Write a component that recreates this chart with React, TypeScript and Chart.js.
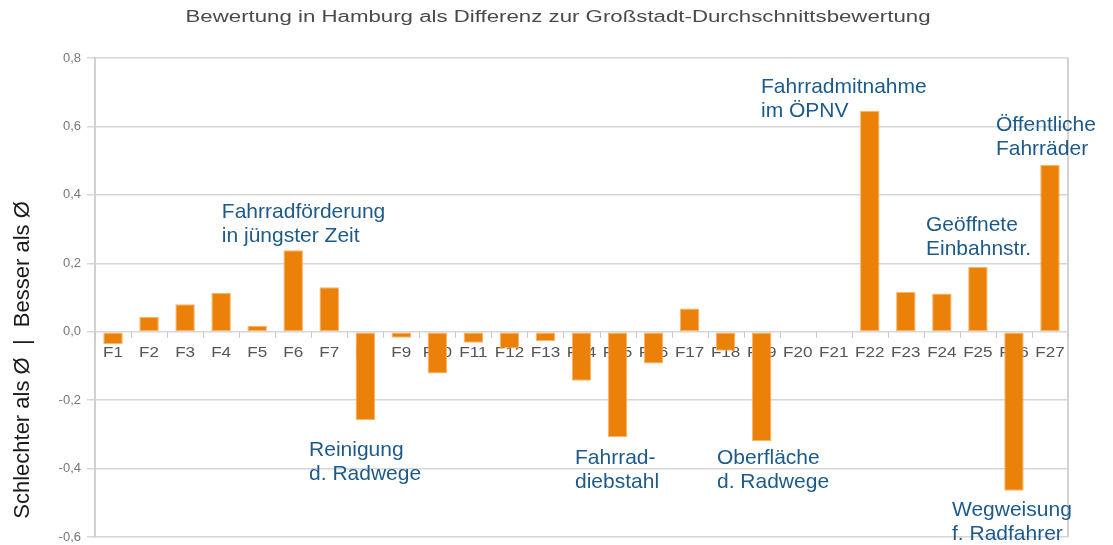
import React, { useEffect, useRef } from "react";
import { Chart, registerables } from "chart.js";

Chart.register(...registerables);

const TITLE = "Bewertung in Hamburg als Differenz zur Großstadt-Durchschnittsbewertung";
const Y_TITLE = "Schlechter als Ø  |  Besser als Ø";

const categories = [
  "F1", "F2", "F3", "F4", "F5", "F6", "F7", "F8", "F9", "F10",
  "F11", "F12", "F13", "F14", "F15", "F16", "F17", "F18", "F19", "F20",
  "F21", "F22", "F23", "F24", "F25", "F26", "F27",
];

const values = [
  -0.037, 0.043, 0.08, 0.113, 0.017, 0.238, 0.13, -0.258, -0.018, -0.122,
  -0.032, -0.049, -0.028, -0.143, -0.308, -0.093, 0.068, -0.056, -0.32, -0.002,
  0.003, 0.646, 0.117, 0.112, 0.189, -0.465, 0.487,
];

const yMin = -0.6;
const yMax = 0.8;
const yStep = 0.2;

// Annotation texts, anchored in category-index / value space
const annotationLines = [
  ["Fahrradförderung", "in jüngster Zeit"],
  ["Reinigung", "d. Radwege"],
  ["Fahrrad-", "diebstahl"],
  ["Oberfläche", "d. Radwege"],
  ["Fahrradmitnahme", "im ÖPNV"],
  ["Öffentliche", "Fahrräder"],
  ["Geöffnete", "Einbahnstr."],
  ["Wegweisung", "f. Radfahrer"],
];
const annotationX = [3.02, 5.44, 12.82, 16.76, 17.98, 24.5, 22.56, 23.28];
const annotationY = [0.35, -0.346, -0.369, -0.369, 0.715, 0.604, 0.312, -0.521];

const FONT = '"Liberation Sans", Arial, sans-serif';

const decorPlugin = {
  id: "decor",
  beforeDatasetsDraw(chart: any) {
    const { ctx, chartArea, scales } = chart;
    const x = scales.x;
    const y = scales.y;
    const y0 = y.getPixelForValue(0);
    ctx.save();
    // right border of plot
    ctx.strokeStyle = "#d3d3d3";
    ctx.lineWidth = 2;
    ctx.beginPath();
    ctx.moveTo(chartArea.right, chartArea.top);
    ctx.lineTo(chartArea.right, chartArea.bottom);
    ctx.stroke();
    // small category ticks below the zero line
    ctx.strokeStyle = "#c8c8c8";
    ctx.lineWidth = 1;
    for (let i = 0; i <= categories.length; i++) {
      const px = Math.round(x.getPixelForValue(i - 0.5)) + 0.5;
      ctx.beginPath();
      ctx.moveTo(px, y0);
      ctx.lineTo(px, y0 + 6);
      ctx.stroke();
    }
    // category labels just below zero line
    ctx.fillStyle = "#555555";
    ctx.font = "14px " + FONT;
    ctx.textAlign = "center";
    ctx.textBaseline = "middle";
    categories.forEach((c, i) => {
      const px = x.getPixelForValue(i);
      ctx.save();
      ctx.translate(px, y0 + 21);
      ctx.scale(1.22, 1);
      ctx.fillText(c, 0, 0);
      ctx.restore();
    });
    ctx.restore();
  },
  afterDraw(chart: any) {
    const { ctx, scales } = chart;
    const x = scales.x;
    const y = scales.y;
    ctx.save();
    // title (stretched horizontally like the original)
    ctx.font = "16px " + FONT;
    ctx.fillStyle = "#4a4a4a";
    ctx.textAlign = "center";
    ctx.textBaseline = "middle";
    const w = ctx.measureText(TITLE).width;
    ctx.save();
    ctx.translate(558, 18);
    ctx.scale(745 / w, 1);
    ctx.fillText(TITLE, 0, 0);
    ctx.restore();

    // y axis title
    ctx.save();
    ctx.font = "22px " + FONT;
    ctx.fillStyle = "#1a1a1a";
    ctx.translate(23, 360);
    ctx.rotate(-Math.PI / 2);
    ctx.textAlign = "center";
    ctx.textBaseline = "middle";
    ctx.fillText(Y_TITLE, 0, 0);
    ctx.restore();

    // annotations
    ctx.font = "21px " + FONT;
    ctx.fillStyle = "#1d5a8c";
    ctx.textAlign = "left";
    ctx.textBaseline = "middle";
    annotationLines.forEach((lines, i) => {
      const px = x.getPixelForValue(annotationX[i]);
      const py = y.getPixelForValue(annotationY[i]);
      lines.forEach((t, k) => ctx.fillText(t, px, py + k * 24));
    });
    ctx.restore();
  },
};

export default function App() {
  const ref = useRef<HTMLCanvasElement | null>(null);

  useEffect(() => {
    if (!ref.current) return;
    const chart = new Chart(ref.current, {
      type: "bar",
      data: {
        labels: categories,
        datasets: [
          {
            data: values,
            backgroundColor: "#ec8109",
            borderColor: "#f7b565",
            borderWidth: 1,
            borderSkipped: false,
            barPercentage: 0.54,
            categoryPercentage: 1,
          },
        ],
      },
      options: {
        animation: false,
        responsive: false,
        maintainAspectRatio: false,
        layout: { padding: { left: 0, right: 45, top: 58, bottom: 8 } },
        plugins: {
          legend: { display: false },
          tooltip: { enabled: false },
          title: { display: false },
        },
        scales: {
          x: { display: false },
          y: {
            min: yMin,
            max: yMax,
            ticks: {
              stepSize: yStep,
              padding: 6,
              color: "#777777",
              font: { family: FONT, size: 13 },
              callback: (v: any) => {
                const n = Math.abs(Number(v)) < 1e-9 ? 0 : Number(v);
                return n.toFixed(1).replace(".", ",");
              },
            },
            grid: { color: "#d6d6d6", lineWidth: 1.5, tickLength: 8 },
            border: { color: "#d0d0d0", width: 2 },
            afterFit: (s: any) => {
              s.width = 95;
              s.paddingTop = 0;
              s.paddingBottom = 0;
            },
          },
        },
      } as any,
      plugins: [decorPlugin],
    });
    return () => chart.destroy();
  }, []);

  return (
    <div style={{ position: "fixed", left: 0, top: 0, width: 1113, height: 545, background: "#fff" }}>
      <canvas ref={ref} width={1113} height={545} style={{ display: "block" }} />
    </div>
  );
}
